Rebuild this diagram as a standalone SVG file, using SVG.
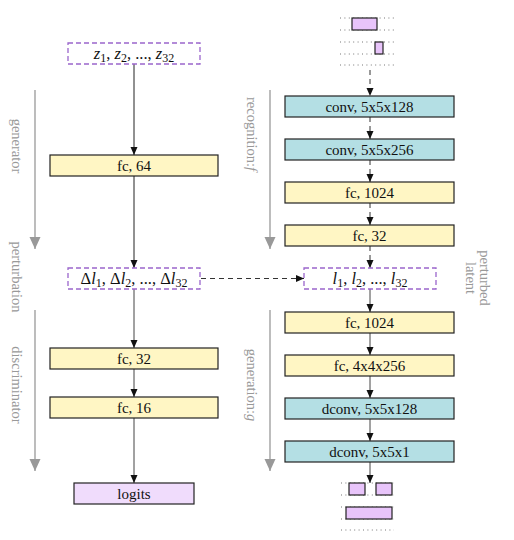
<svg xmlns="http://www.w3.org/2000/svg" width="514" height="540" viewBox="0 0 514 540" font-family="'Liberation Serif', 'Times New Roman', serif">
<style>
text{font-family:"Liberation Serif","Times New Roman",serif;}
.lbl{font-size:15px;fill:#111;text-anchor:middle;}
.m{font-size:16.5px;fill:#111;text-anchor:middle;}
.side{font-size:14.5px;fill:#999;text-anchor:middle;}
.y{fill:#fff6c4;stroke:#222;stroke-width:1.2;}
.t{fill:#b4dfe4;stroke:#222;stroke-width:1.2;}
.p{fill:#f0dcfc;stroke:#222;stroke-width:1.2;}
.pi{fill:#e8c4fa;stroke:#222;stroke-width:1.2;}
.d{fill:#fff;stroke:#9a66cc;stroke-width:1.3;stroke-dasharray:5,3;}
.c{stroke:#222;stroke-width:1;fill:none;marker-end:url(#ah);}
.cg{stroke:#444;stroke-width:1;fill:none;marker-end:url(#ah);}
.cd{stroke:#333;stroke-width:1;fill:none;stroke-dasharray:5,4;marker-end:url(#ah);}
.g{stroke:#999;stroke-width:1.3;fill:none;marker-end:url(#gh);}
.dot{stroke:#777;stroke-width:1;stroke-dasharray:1,3.4;fill:none;}
.it{font-style:italic;}
.sub{font-size:12px;}
</style>
<defs>
<marker id="ah" markerUnits="userSpaceOnUse" markerWidth="9" markerHeight="8" refX="8" refY="4" orient="auto"><path d="M0,0.5 L8,4 L0,7.5 Z" fill="#111"/></marker>
<marker id="gh" markerUnits="userSpaceOnUse" markerWidth="14" markerHeight="12" refX="12" refY="6" orient="auto"><path d="M0,0.5 L12,6 L0,11.5 Z" fill="#999"/></marker>
</defs>

<g id="side-labels">
<line class="g" x1="35" y1="90" x2="35" y2="249"/>
<line class="g" x1="35" y1="310" x2="35" y2="471"/>
<line class="g" x1="270" y1="90" x2="270" y2="249"/>
<line class="g" x1="270" y1="310" x2="270" y2="471"/>
<text class="side" transform="translate(12,146) rotate(90)">generator</text>
<text class="side" transform="translate(12,277) rotate(90)">perturbation</text>
<text class="side" transform="translate(12,385) rotate(90)">discriminator</text>
<text class="side" transform="translate(247,134) rotate(90)">recognition:<tspan class="it">f</tspan></text>
<text class="side" transform="translate(247,385) rotate(90)">generation:<tspan class="it">g</tspan></text>
<text class="side" transform="translate(480,278) rotate(90)">perturbed</text>
<text class="side" transform="translate(466,278) rotate(90)">latent</text>
</g>

<g id="connectors">
<line class="c" x1="134" y1="64" x2="134" y2="155"/>
<line class="c" x1="134" y1="176" x2="134" y2="268"/>
<line class="cg" x1="134" y1="289" x2="134" y2="348"/>
<line class="cg" x1="134" y1="369" x2="134" y2="397"/>
<line class="cg" x1="134" y1="418" x2="134" y2="483"/>
<line class="cd" x1="201" y1="278.5" x2="304" y2="278.5"/>
<line class="cd" x1="370" y1="70" x2="370" y2="96"/>
<line class="cd" x1="370" y1="117" x2="370" y2="139"/>
<line class="cd" x1="370" y1="160" x2="370" y2="182"/>
<line class="cd" x1="370" y1="203" x2="370" y2="225"/>
<line class="cd" x1="370" y1="246" x2="370" y2="268"/>
<line class="cg" x1="370" y1="289" x2="370" y2="312"/>
<line class="cg" x1="370" y1="333" x2="370" y2="355"/>
<line class="cg" x1="370" y1="376" x2="370" y2="398"/>
<line class="cg" x1="370" y1="419" x2="370" y2="441"/>
<line class="cg" x1="370" y1="462" x2="370" y2="483"/>
</g>

<g id="z-input">
<rect class="d" x="68" y="43" width="132" height="21"/>
<text class="m" x="134" y="58.5"><tspan class="it">z</tspan><tspan class="sub" dy="3">1</tspan><tspan dy="-3">, </tspan><tspan class="it">z</tspan><tspan class="sub" dy="3">2</tspan><tspan dy="-3">, ..., </tspan><tspan class="it">z</tspan><tspan class="sub" dy="3">32</tspan></text>
</g>
<g id="fc64"><rect class="y" x="50" y="155" width="168" height="21"/><text class="lbl" x="134" y="170.5">fc, 64</text></g>
<g id="delta-l">
<rect class="d" x="68" y="268" width="132" height="21"/>
<text class="m" x="134" y="283.5">Δ<tspan class="it">l</tspan><tspan class="sub" dy="3">1</tspan><tspan dy="-3">, Δ</tspan><tspan class="it">l</tspan><tspan class="sub" dy="3">2</tspan><tspan dy="-3">, ..., Δ</tspan><tspan class="it">l</tspan><tspan class="sub" dy="3">32</tspan></text>
</g>
<g id="fc32-left"><rect class="y" x="50" y="348" width="168" height="21"/><text class="lbl" x="134" y="363.5">fc, 32</text></g>
<g id="fc16"><rect class="y" x="50" y="397" width="168" height="21"/><text class="lbl" x="134" y="412.5">fc, 16</text></g>
<g id="logits"><rect class="p" x="74" y="483" width="120" height="21"/><text class="lbl" x="134" y="498.5">logits</text></g>

<g id="input-image">
<line class="dot" x1="340" y1="18" x2="395" y2="18"/>
<line class="dot" x1="340" y1="30" x2="395" y2="30"/>
<line class="dot" x1="340" y1="42" x2="395" y2="42"/>
<line class="dot" x1="340" y1="54" x2="395" y2="54"/>
<line class="dot" x1="340" y1="65" x2="395" y2="65"/>
<rect class="pi" x="352" y="18" width="25" height="12"/>
<rect class="pi" x="375" y="42" width="8" height="12"/>
</g>
<g id="conv128"><rect class="t" x="285" y="96" width="169" height="21"/><text class="lbl" x="369.5" y="111.5">conv, 5x5x128</text></g>
<g id="conv256"><rect class="t" x="285" y="139" width="169" height="21"/><text class="lbl" x="369.5" y="154.5">conv, 5x5x256</text></g>
<g id="fc1024-r"><rect class="y" x="285" y="182" width="169" height="21"/><text class="lbl" x="369.5" y="197.5">fc, 1024</text></g>
<g id="fc32-r"><rect class="y" x="285" y="225" width="169" height="21"/><text class="lbl" x="369.5" y="240.5">fc, 32</text></g>
<g id="l-latent">
<rect class="d" x="304" y="268" width="132" height="21"/>
<text class="m" x="370" y="283.5"><tspan class="it">l</tspan><tspan class="sub" dy="3">1</tspan><tspan dy="-3">, </tspan><tspan class="it">l</tspan><tspan class="sub" dy="3">2</tspan><tspan dy="-3">, ..., </tspan><tspan class="it">l</tspan><tspan class="sub" dy="3">32</tspan></text>
</g>
<g id="fc1024-g"><rect class="y" x="285" y="312" width="169" height="21"/><text class="lbl" x="369.5" y="327.5">fc, 1024</text></g>
<g id="fc4x4"><rect class="y" x="285" y="355" width="169" height="21"/><text class="lbl" x="369.5" y="370.5">fc, 4x4x256</text></g>
<g id="dconv128"><rect class="t" x="285" y="398" width="169" height="21"/><text class="lbl" x="369.5" y="413.5">dconv, 5x5x128</text></g>
<g id="dconv1"><rect class="t" x="285" y="441" width="169" height="21"/><text class="lbl" x="369.5" y="456.5">dconv, 5x5x1</text></g>
<g id="output-image">
<line class="dot" x1="341" y1="483" x2="394" y2="483"/>
<line class="dot" x1="341" y1="495" x2="394" y2="495"/>
<line class="dot" x1="341" y1="507" x2="394" y2="507"/>
<line class="dot" x1="341" y1="519" x2="394" y2="519"/>
<line class="dot" x1="341" y1="530" x2="394" y2="530"/>
<rect class="pi" x="349" y="483" width="16" height="12"/>
<rect class="pi" x="376" y="483" width="16" height="12"/>
<rect class="pi" x="346" y="507" width="46" height="12"/>
</g>
</svg>
